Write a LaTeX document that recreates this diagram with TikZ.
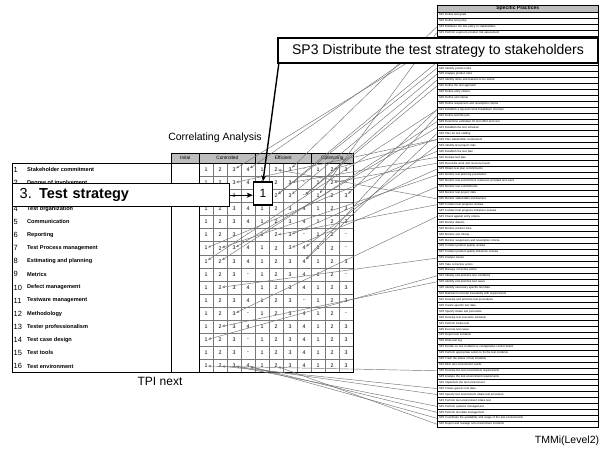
\documentclass[tikz,border=0pt]{standalone}
\usepackage{fontspec}
\setmainfont{Liberation Sans}
\usetikzlibrary{arrows.meta}
\definecolor{hdr}{RGB}{190,190,190}
\definecolor{gridc}{RGB}{120,120,120}
\definecolor{linec}{RGB}{115,115,115}
\begin{document}
\begin{tikzpicture}[x=1pt,y=-1pt,
  cellt/.style={inner sep=0.3pt, font=\fontsize{5.3}{5.3}\selectfont},
  namet/.style={anchor=west, inner sep=0pt, font=\fontsize{5.6}{6}\selectfont\bfseries},
  numt/.style={anchor=west, inner sep=0pt, font=\fontsize{7.5}{7.5}\selectfont},
  hdrcell/.style={draw=black, line width=0.5pt, fill=hdr, inner sep=0pt, font=\fontsize{4.8}{5}\selectfont},
  spbox/.style={draw=black, line width=0.4pt, minimum width=161pt, minimum height=5.93pt, text width=157pt, align=left, inner xsep=2pt, inner ysep=0pt, font=\fontsize{2.8}{3}\selectfont},
  conn/.style={draw=linec, line width=0.45pt, -{Stealth[length=3.2pt,width=2.4pt]}},
  bigbox/.style={draw=black, line width=1.4pt, fill=white},
  bigarrow/.style={draw=black, line width=1.4pt, -{Stealth[length=6pt,width=5pt]}},
  lbltext/.style={inner sep=0pt}
]
\useasboundingbox (0,0) rectangle (601,464);

% ---------- TPI next table ----------
\node[hdrcell, minimum width=28pt, minimum height=10.5pt, anchor=north west] (hI) at (171,152.5) {Inital};
\node[hdrcell, minimum width=56pt, minimum height=10.5pt, anchor=north west] (hC) at (199,152.5) {Controlled};
\node[hdrcell, minimum width=56pt, minimum height=10.5pt, anchor=north west] (hE) at (255,152.5) {Efficient};
\node[hdrcell, minimum width=42pt, minimum height=10.5pt, anchor=north west] (hO) at (311,152.5) {Optimizing};

\foreach \k in {0,...,16} \draw[gridc, line width=0.4pt] (199,{163+13.1*\k}) -- (353,{163+13.1*\k});
\foreach \k in {0,...,11} \draw[gridc, line width=0.4pt] ({199+14*\k},163) -- ({199+14*\k},372.6);
\draw[black, line width=1pt] (12,163) rectangle (353,372.6);
\draw[black, line width=0.8pt] (171,152.5) -- (171,372.6);
\draw[black, line width=0.8pt] (199,152.5) -- (199,372.6);

\foreach \r/\nm/\nr in {1/Stakeholder commitment/1, 2/Degree of involvement/2, 3/{}/{}, 4/Test organization/4, 5/Communication/5, 6/Reporting/6, 7/Test Process management/7, 8/Estimating and planning/8, 9/Metrics/9, 10/Defect management/10, 11/Testware management/11, 12/Methodology/12, 13/Tester professionalism/13, 14/Test case design/14, 15/Test tools/15, 16/Test environment/16} {
  \node[numt] (n\r) at (13.5,{156.45+13.1*\r}) {\nr};
  \node[namet] (t\r) at (27,{156.45+13.1*\r}) {\nm};
}

\foreach \r/\vals in {
  1/{1,2,3,4,1,2,3,-,1,2,3},
  2/{1,2,3,4,1,2,3,-,1,2,-},
  3/{{},{},3,4,{},2,3,-,1,2,3},
  4/{1,2,3,4,1,2,3,4,1,2,3},
  5/{1,2,3,4,1,2,3,4,1,2,3},
  6/{1,2,3,-,1,2,3,-,1,2,-},
  7/{1,2,3,4,1,2,3,4,1,2,-},
  8/{1,2,3,4,1,2,3,4,1,2,3},
  9/{1,2,3,-,1,2,3,4,1,2,-},
  10/{1,2,3,4,1,2,3,4,1,2,3},
  11/{1,2,3,4,1,2,3,-,1,2,3},
  12/{1,2,3,-,1,2,3,4,1,2,-},
  13/{1,2,3,4,1,2,3,4,1,2,3},
  14/{1,2,3,-,1,2,3,4,1,2,3},
  15/{1,2,3,-,1,2,3,4,1,2,3},
  16/{1,2,3,4,1,2,3,4,1,2,3}} {
  \foreach \v [count=\j] in \vals {
    \node[cellt] (c\r-\j) at ({192+14*\j},{156.45+13.1*\r}) {\v};
  }
}

% ---------- TMMi specific practices ----------
\node[hdrcell, minimum width=161pt, minimum height=7pt, anchor=south west, font=\fontsize{5}{5}\selectfont\bfseries] (sph) at (437,12) {Specific Practices};
\foreach \t [count=\i] in {
SP1 Define test goals, SP2 Define test policy, SP3 Distribute the test policy to stakeholders,
SP1 Perform a generic product risk assessment, SP2 Define test strategy, {}, {}, {},
SP1 Define product risk categories and parameters, SP2 Identify product risks, SP3 Analyze product risks,
SP1 Identify items and features to be tested, SP2 Define the test approach, SP3 Define entry criteria, SP4 Define exit criteria, SP5 Define suspension and resumption criteria,
SP1 Establish a top-level work breakdown structure, SP2 Define test lifecycle, SP3 Determine estimates for test effort and cost,
SP1 Establish the test schedule, SP2 Plan for test staffing, SP3 Plan stakeholder involvement, SP4 Identify test project risks, SP5 Establish the test plan,
SP1 Review test plan, SP2 Reconcile work and resource levels, SP3 Obtain test plan commitments,
SP1 Monitor test planning parameters, SP2 Monitor test environment resources provided and used, SP3 Monitor test commitments, SP4 Monitor test project risks, SP5 Monitor stakeholder involvement, SP6 Conduct test progress reviews, SP7 Conduct test progress milestone reviews,
SP1 Check against entry criteria, SP2 Monitor defects, SP3 Monitor product risks, SP4 Monitor exit criteria, SP5 Monitor suspension and resumption criteria, SP6 Conduct product quality reviews, SP7 Conduct product quality milestone reviews,
SP1 Analyze issues, SP2 Take corrective action, SP3 Manage corrective action,
SP1 Identify and prioritize test conditions, SP2 Identify and prioritize test cases, SP3 Identify necessary specific test data, SP4 Maintain horizontal traceability with requirements,
SP1 Develop and prioritize test procedures, SP2 Create specific test data, SP3 Specify intake test procedure, SP4 Develop test execution schedule,
SP1 Perform intake test, SP2 Execute test cases, SP3 Report test incidents, SP4 Write test log,
SP1 Decide on test incidents in configuration control board, SP2 Perform appropriate action to fix the test incidents, SP3 Track the status of test incidents,
SP1 Elicit test environment needs, SP2 Develop the test environment requirements, SP3 Analyze the test environment requirements,
SP1 Implement the test environment, SP2 Create generic test data, SP3 Specify test environment intake test procedure, SP4 Perform test environment intake test,
SP1 Perform systems management, SP2 Perform test data management, SP3 Coordinate the availability and usage of the test environments, SP4 Report and manage test environment incidents} {
  \node[spbox] (s\i) at (517.5,{12+5.93*(\i-0.5)}) {\t};
}

% ---------- correlations ----------
\foreach \r/\j/\i in {1/3/6, 1/4/5, 1/7/3, 1/6/32, 1/10/22,
  2/3/22, 2/7/25, 2/10/26,
  3/6/10, 3/6/9, 3/7/11, 3/8/12, 3/8/13, 3/9/4, 3/11/17,
  6/6/33, 6/7/27,
  7/1/24, 7/2/28, 7/3/20, 7/7/30, 7/8/23,
  8/1/17, 8/2/19, 8/8/21, 8/8/18,
  10/2/42, 12/3/35, 13/2/46, 14/1/45,
  16/1/61, 16/2/64, 16/3/65, 16/3/67, 16/4/68, 16/4/69, 16/6/70} {
  \draw[conn] (s\i.west) -- (c\r-\j);
}

% ---------- highlight boxes ----------
\node[bigbox, minimum width=217pt, minimum height=23pt, anchor=north west, text width=203pt, inner xsep=7pt, align=left, font=\fontsize{14.5}{14.5}\selectfont] (ts) at (12,183) {3. \textbf{Test strategy}};
\node[bigbox, minimum width=19pt, minimum height=23pt, font=\fontsize{12}{12}\selectfont] (one) at (263,193.5) {1};
\node[bigbox, minimum width=320pt, minimum height=25pt, font=\fontsize{14}{14}\selectfont] (sp3) at (438,50.5) {SP3 Distribute the test strategy to stakeholders};
\coordinate (sp3foot) at ([xshift=1.5pt]sp3.south west);
\draw[bigarrow] (ts.east) -- (one.west |- ts.east);
\draw[bigarrow] (sp3foot) -- (one.north);

% ---------- captions ----------
\node[lbltext, font=\fontsize{10.5}{10.5}\selectfont] (ca) at (215,138) {Correlating Analysis};
\node[lbltext, font=\fontsize{12}{12}\selectfont] (tpi) at (160,381) {TPI next};
\node[lbltext, font=\fontsize{10.5}{10.5}\selectfont] (tm) at (567,441) {TMMi(Level2)};
\end{tikzpicture}
\end{document}
